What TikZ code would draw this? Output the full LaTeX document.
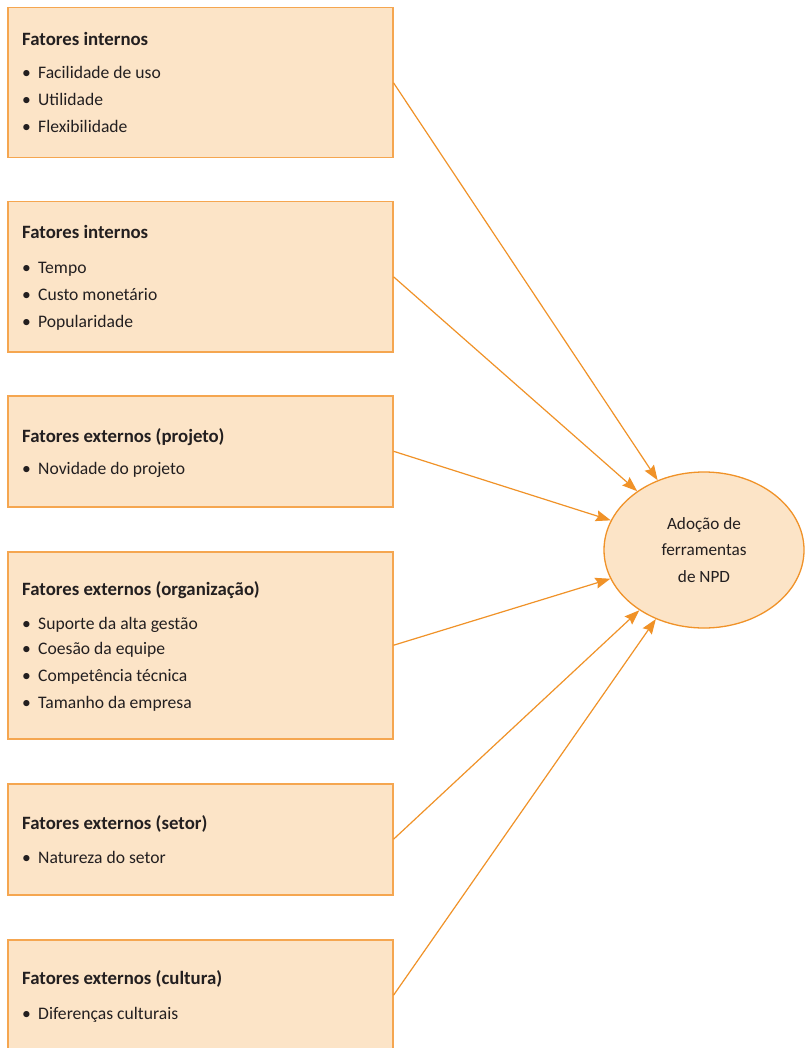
\documentclass[tikz,border=0pt]{standalone}
\usepackage{fontspec}
\setmainfont{Carlito}
\usetikzlibrary{arrows.meta,shapes.geometric}
\definecolor{boxfill}{RGB}{252,228,199}
\definecolor{boxline}{RGB}{245,166,80}
\definecolor{arrowc}{RGB}{240,146,40}
\definecolor{txt}{RGB}{35,31,32}
\tikzset{
  factorbox/.style={draw=boxline, fill=boxfill, line width=1.5pt, minimum width=385pt, inner sep=0pt, anchor=north west},
  ttl/.style={anchor=base west, inner sep=0pt, font=\fontsize{18.8}{22}\selectfont\bfseries, text=txt},
  itm/.style={anchor=base west, inner sep=0pt, font=\fontsize{17.6}{20}\selectfont, text=txt},
  goal/.style={draw=arrowc, fill=boxfill, ellipse, line width=1.3pt, minimum width=200pt, minimum height=156pt, inner sep=0pt, align=center, font=\fontsize{17.2}{26.5}\selectfont, text=txt},
  arr/.style={draw=arrowc, line width=1.2pt, -{Stealth[length=15pt,width=11pt,inset=2pt]}}
}
\newcommand{\bul}[1]{\makebox[16pt][l]{•}#1}
\begin{document}
\begin{tikzpicture}[x=1pt,y=-1pt]
\clip (0,0) rectangle (805,1048);
\fill[white] (0,0) rectangle (805,1048);
% boxes
\node[factorbox, minimum height=150pt] (b1) at (7,7) {};
\node[factorbox, minimum height=150pt] (b2) at (7,201) {};
\node[factorbox, minimum height=111pt] (b3) at (7,395) {};
\node[factorbox, minimum height=187pt] (b4) at (7,551) {};
\node[factorbox, minimum height=111pt] (b5) at (7,783) {};
\node[factorbox, minimum height=111pt] (b6) at (7,939) {};
% texts box 1
\node[ttl] (t1) at (22,46) {Fatores internos};
\node[itm] (t1a) at (22,79) {\bul{Facilidade de uso}};
\node[itm] (t1b) at (22,106) {\bul{Utilidade}};
\node[itm] (t1c) at (22,133) {\bul{Flexibilidade}};
% box 2
\node[ttl] (t2) at (22,239) {Fatores internos};
\node[itm] (t2a) at (22,273) {\bul{Tempo}};
\node[itm] (t2b) at (22,300) {\bul{Custo monetário}};
\node[itm] (t2c) at (22,327) {\bul{Popularidade}};
% box 3
\node[ttl] (t3) at (22,442) {Fatores externos (projeto)};
\node[itm] (t3a) at (22,474) {\bul{Novidade do projeto}};
% box 4
\node[ttl] (t4) at (22,595) {Fatores externos (organização)};
\node[itm] (t4a) at (22,629) {\bul{Suporte da alta gestão}};
\node[itm] (t4b) at (22,654) {\bul{Coesão da equipe}};
\node[itm] (t4c) at (22,681) {\bul{Competência técnica}};
\node[itm] (t4d) at (22,708) {\bul{Tamanho da empresa}};
% box 5
\node[ttl] (t5) at (22,829) {Fatores externos (setor)};
\node[itm] (t5a) at (22,863) {\bul{Natureza do setor}};
% box 6
\node[ttl] (t6) at (22,984) {Fatores externos (cultura)};
\node[itm] (t6a) at (22,1019) {\bul{Diferenças culturais}};
% goal
\node[goal] (e) at (704,550) {Adoção de\\ferramentas\\de NPD};
% arrows
\draw[arr] (b1.east) -- (e);
\draw[arr] (b2.east) -- (e);
\draw[arr] (b3.east) -- (e);
\draw[arr] (b4.east) -- (e);
\draw[arr] (b5.east) -- (e);
\draw[arr] (b6.east) -- (e);
\end{tikzpicture}
\end{document}
